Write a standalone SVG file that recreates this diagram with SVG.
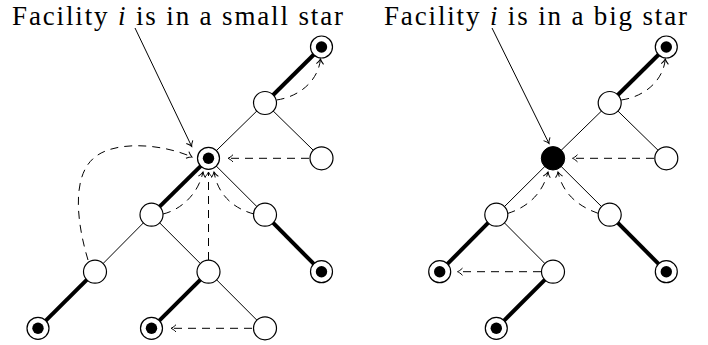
<svg xmlns="http://www.w3.org/2000/svg" width="708" height="345" viewBox="0 0 708 345">
<defs>
<marker id="to" viewBox="-6 -5 7 10" refX="0" refY="0" markerWidth="7" markerHeight="10" markerUnits="userSpaceOnUse" orient="auto" overflow="visible">
<path d="M -5 -3.6 C -3 -1.5, -1 -0.4, 0 0 C -1 0.4, -3 1.5, -5 3.6" fill="none" stroke="#000" stroke-width="1"/>
</marker>
</defs>
<style>
.title{font-family:"Liberation Serif","Times New Roman",serif;font-size:27px;fill:#000}
.thin{stroke:#000;stroke-width:1;fill:none}
.thick{stroke:#000;stroke-width:4;fill:none}
.dash{stroke:#000;stroke-width:1;fill:none;stroke-dasharray:8 6;marker-end:url(#to)}
.ptr{stroke:#000;stroke-width:1;fill:none;marker-end:url(#to)}
.open{fill:#fff;stroke:#000;stroke-width:1.2}
.dot{fill:#000}
.big{fill:#000;stroke:#000;stroke-width:1}
</style>
<rect width="708" height="345" fill="#fff"/>

<text class="title" x="12" y="25" textLength="331" lengthAdjust="spacing">Facility <tspan font-style="italic">i</tspan> is in a small star</text>
<text class="title" x="384" y="25" textLength="303" lengthAdjust="spacing">Facility <tspan font-style="italic">i</tspan> is in a big star</text>

<g id="edges">
<line class="thick" x1="321.5" y1="47" x2="265" y2="103"/>
<line class="thin" x1="265" y1="103" x2="208.5" y2="158.3"/>
<line class="thin" x1="265" y1="103" x2="321.5" y2="158.3"/>
<line class="thick" x1="208.5" y1="158.3" x2="151.5" y2="214.7"/>
<line class="thin" x1="208.5" y1="158.3" x2="265" y2="214.7"/>
<line class="thin" x1="151.5" y1="214.7" x2="95" y2="271.7"/>
<line class="thin" x1="151.5" y1="214.7" x2="208.5" y2="271.7"/>
<line class="thick" x1="265" y1="214.7" x2="321.5" y2="271.7"/>
<line class="thick" x1="95" y1="271.7" x2="38" y2="328.3"/>
<line class="thick" x1="208.5" y1="271.7" x2="151.5" y2="328.3"/>
<line class="thin" x1="208.5" y1="271.7" x2="265" y2="328.3"/>

<line class="thick" x1="666.3" y1="47" x2="609.7" y2="103"/>
<line class="thin" x1="609.7" y1="103" x2="553" y2="158.3"/>
<line class="thin" x1="609.7" y1="103" x2="666.3" y2="158.3"/>
<line class="thin" x1="553" y1="158.3" x2="496.3" y2="214.7"/>
<line class="thin" x1="553" y1="158.3" x2="609.7" y2="214.7"/>
<line class="thick" x1="496.3" y1="214.7" x2="439.7" y2="271.7"/>
<line class="thin" x1="496.3" y1="214.7" x2="553" y2="271.7"/>
<line class="thick" x1="609.7" y1="214.7" x2="666.3" y2="271.7"/>
<line class="thick" x1="553" y1="271.7" x2="496.3" y2="328.3"/>
</g>

<g id="connectors">
<line class="ptr" x1="135" y1="28" x2="191.7" y2="146.5"/>
<line class="ptr" x1="492" y1="28" x2="549" y2="143.5"/>

<path class="dash" d="M 276.5 100 C 298 97, 318 82, 320.5 59"/>
<path class="dash" d="M 309 158.3 L 228 158.3"/>
<path class="dash" d="M 163 214 C 180 210, 198 195, 203 172"/>
<path class="dash" d="M 254 214 C 235 209, 218 196, 214 172"/>
<path class="dash" d="M 208.5 260 L 208.5 172"/>
<path class="dash" d="M 88 260 C 76 220, 72 175, 95 157 C 115 141, 160 143, 192 157"/>
<path class="dash" d="M 252 328.3 L 171 328.3"/>

<path class="dash" d="M 621.2 100 C 643 97, 663 82, 665.3 59"/>
<path class="dash" d="M 654 158.3 L 572.5 158.3"/>
<path class="dash" d="M 507.5 213.5 C 525 208, 542 196, 548 172"/>
<path class="dash" d="M 598.5 213.5 C 580 207, 563 195, 558 172"/>
<path class="dash" d="M 541 271.7 L 457.5 271.7"/>
</g>

<g id="L-A"><circle class="open" cx="321.5" cy="47" r="11"/><circle class="dot" cx="321.5" cy="47" r="5.7"/></g>
<g id="L-B"><circle class="open" cx="265" cy="103" r="11.5"/></g>
<g id="L-C"><circle class="open" cx="208.5" cy="158.3" r="11"/><circle class="dot" cx="208.5" cy="158.3" r="5.7"/></g>
<g id="L-D"><circle class="open" cx="321.5" cy="158.3" r="11.5"/></g>
<g id="L-E"><circle class="open" cx="151.5" cy="214.7" r="11.5"/></g>
<g id="L-F"><circle class="open" cx="265" cy="214.7" r="11.5"/></g>
<g id="L-G"><circle class="open" cx="95" cy="271.7" r="11.5"/></g>
<g id="L-H"><circle class="open" cx="208.5" cy="271.7" r="11.5"/></g>
<g id="L-I"><circle class="open" cx="321.5" cy="271.7" r="11"/><circle class="dot" cx="321.5" cy="271.7" r="5.7"/></g>
<g id="L-J"><circle class="open" cx="38" cy="328.3" r="11"/><circle class="dot" cx="38" cy="328.3" r="5.7"/></g>
<g id="L-K"><circle class="open" cx="151.5" cy="328.3" r="11"/><circle class="dot" cx="151.5" cy="328.3" r="5.7"/></g>
<g id="L-L"><circle class="open" cx="265" cy="328.3" r="11.5"/></g>

<g id="R-A"><circle class="open" cx="666.3" cy="47" r="11"/><circle class="dot" cx="666.3" cy="47" r="5.7"/></g>
<g id="R-B"><circle class="open" cx="609.7" cy="103" r="11.5"/></g>
<g id="R-C"><circle class="big" cx="553" cy="158.3" r="11.7"/></g>
<g id="R-D"><circle class="open" cx="666.3" cy="158.3" r="11.5"/></g>
<g id="R-E"><circle class="open" cx="496.3" cy="214.7" r="11.5"/></g>
<g id="R-F"><circle class="open" cx="609.7" cy="214.7" r="11.5"/></g>
<g id="R-G"><circle class="open" cx="439.7" cy="271.7" r="11"/><circle class="dot" cx="439.7" cy="271.7" r="5.7"/></g>
<g id="R-H"><circle class="open" cx="553" cy="271.7" r="11.5"/></g>
<g id="R-I"><circle class="open" cx="666.3" cy="271.7" r="11"/><circle class="dot" cx="666.3" cy="271.7" r="5.7"/></g>
<g id="R-K"><circle class="open" cx="496.3" cy="328.3" r="11"/><circle class="dot" cx="496.3" cy="328.3" r="5.7"/></g>
</svg>
